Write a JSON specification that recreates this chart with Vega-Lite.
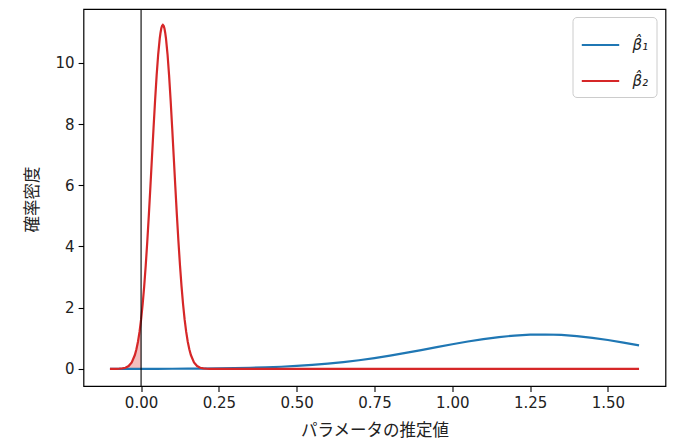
{
  "$schema": "https://vega.github.io/schema/vega-lite/v6.json",
  "width": 582,
  "height": 377,
  "autosize": "none",
  "padding": {"left": 83.5, "top": 9, "right": 13.5, "bottom": 61},
  "background": "white",
  "datasets": {
    "blue": [
      {"x": -0.10, "y": 0.0005, "series": "β̂₁"},
      {"x": -0.05, "y": 0.0009, "series": "β̂₁"},
      {"x": 0.00, "y": 0.0015, "series": "β̂₁"},
      {"x": 0.05, "y": 0.0025, "series": "β̂₁"},
      {"x": 0.10, "y": 0.0041, "series": "β̂₁"},
      {"x": 0.15, "y": 0.0065, "series": "β̂₁"},
      {"x": 0.20, "y": 0.0101, "series": "β̂₁"},
      {"x": 0.25, "y": 0.0154, "series": "β̂₁"},
      {"x": 0.30, "y": 0.0230, "series": "β̂₁"},
      {"x": 0.35, "y": 0.0338, "series": "β̂₁"},
      {"x": 0.40, "y": 0.0485, "series": "β̂₁"},
      {"x": 0.45, "y": 0.0684, "series": "β̂₁"},
      {"x": 0.50, "y": 0.0945, "series": "β̂₁"},
      {"x": 0.55, "y": 0.1280, "series": "β̂₁"},
      {"x": 0.60, "y": 0.1700, "series": "β̂₁"},
      {"x": 0.65, "y": 0.2213, "series": "β̂₁"},
      {"x": 0.70, "y": 0.2825, "series": "β̂₁"},
      {"x": 0.75, "y": 0.3535, "series": "β̂₁"},
      {"x": 0.80, "y": 0.4335, "series": "β̂₁"},
      {"x": 0.85, "y": 0.5214, "series": "β̂₁"},
      {"x": 0.90, "y": 0.6147, "series": "β̂₁"},
      {"x": 0.95, "y": 0.7106, "series": "β̂₁"},
      {"x": 1.00, "y": 0.8051, "series": "β̂₁"},
      {"x": 1.05, "y": 0.8944, "series": "β̂₁"},
      {"x": 1.10, "y": 0.9741, "series": "β̂₁"},
      {"x": 1.15, "y": 1.0399, "series": "β̂₁"},
      {"x": 1.20, "y": 1.0885, "series": "β̂₁"},
      {"x": 1.25, "y": 1.1169, "series": "β̂₁"},
      {"x": 1.30, "y": 1.1236, "series": "β̂₁"},
      {"x": 1.35, "y": 1.1080, "series": "β̂₁"},
      {"x": 1.40, "y": 1.0713, "series": "β̂₁"},
      {"x": 1.45, "y": 1.0154, "series": "β̂₁"},
      {"x": 1.50, "y": 0.9436, "series": "β̂₁"},
      {"x": 1.55, "y": 0.8596, "series": "β̂₁"},
      {"x": 1.60, "y": 0.7677, "series": "β̂₁"}
    ],
    "red": [
      {"x": -0.10, "y": 0.0001, "series": "β̂₂"},
      {"x": -0.09, "y": 0.0004, "series": "β̂₂"},
      {"x": -0.08, "y": 0.0015, "series": "β̂₂"},
      {"x": -0.07, "y": 0.0047, "series": "β̂₂"},
      {"x": -0.06, "y": 0.0138, "series": "β̂₂"},
      {"x": -0.05, "y": 0.0371, "series": "β̂₂"},
      {"x": -0.04, "y": 0.0924, "series": "β̂₂"},
      {"x": -0.03, "y": 0.2127, "series": "β̂₂"},
      {"x": -0.02, "y": 0.4522, "series": "β̂₂"},
      {"x": -0.015, "y": 0.6397, "series": "β̂₂"},
      {"x": -0.01, "y": 0.8872, "series": "β̂₂"},
      {"x": -0.005, "y": 1.2063, "series": "β̂₂"},
      {"x": 0.000, "y": 1.6085, "series": "β̂₂"},
      {"x": 0.005, "y": 2.1030, "series": "β̂₂"},
      {"x": 0.010, "y": 2.6944, "series": "β̂₂"},
      {"x": 0.015, "y": 3.3855, "series": "β̂₂"},
      {"x": 0.020, "y": 4.1690, "series": "β̂₂"},
      {"x": 0.025, "y": 5.0333, "series": "β̂₂"},
      {"x": 0.030, "y": 5.9583, "series": "β̂₂"},
      {"x": 0.035, "y": 6.9137, "series": "β̂₂"},
      {"x": 0.040, "y": 7.8646, "series": "β̂₂"},
      {"x": 0.045, "y": 8.7717, "series": "β̂₂"},
      {"x": 0.050, "y": 9.5911, "series": "β̂₂"},
      {"x": 0.055, "y": 10.280, "series": "β̂₂"},
      {"x": 0.060, "y": 10.803, "series": "β̂₂"},
      {"x": 0.0625, "y": 10.985, "series": "β̂₂"},
      {"x": 0.065, "y": 11.129, "series": "β̂₂"},
      {"x": 0.0675, "y": 11.212, "series": "β̂₂"},
      {"x": 0.070, "y": 11.240, "series": "β̂₂"},
      {"x": 0.0725, "y": 11.212, "series": "β̂₂"},
      {"x": 0.075, "y": 11.129, "series": "β̂₂"},
      {"x": 0.0775, "y": 10.985, "series": "β̂₂"},
      {"x": 0.080, "y": 10.803, "series": "β̂₂"},
      {"x": 0.085, "y": 10.280, "series": "β̂₂"},
      {"x": 0.090, "y": 9.5911, "series": "β̂₂"},
      {"x": 0.095, "y": 8.7717, "series": "β̂₂"},
      {"x": 0.100, "y": 7.8646, "series": "β̂₂"},
      {"x": 0.105, "y": 6.9137, "series": "β̂₂"},
      {"x": 0.110, "y": 5.9583, "series": "β̂₂"},
      {"x": 0.115, "y": 5.0333, "series": "β̂₂"},
      {"x": 0.120, "y": 4.1690, "series": "β̂₂"},
      {"x": 0.125, "y": 3.3855, "series": "β̂₂"},
      {"x": 0.130, "y": 2.6944, "series": "β̂₂"},
      {"x": 0.135, "y": 2.1030, "series": "β̂₂"},
      {"x": 0.140, "y": 1.6085, "series": "β̂₂"},
      {"x": 0.145, "y": 1.2063, "series": "β̂₂"},
      {"x": 0.150, "y": 0.8872, "series": "β̂₂"},
      {"x": 0.155, "y": 0.6397, "series": "β̂₂"},
      {"x": 0.160, "y": 0.4522, "series": "β̂₂"},
      {"x": 0.17, "y": 0.2127, "series": "β̂₂"},
      {"x": 0.18, "y": 0.0924, "series": "β̂₂"},
      {"x": 0.19, "y": 0.0371, "series": "β̂₂"},
      {"x": 0.20, "y": 0.0138, "series": "β̂₂"},
      {"x": 0.21, "y": 0.0047, "series": "β̂₂"},
      {"x": 0.22, "y": 0.0015, "series": "β̂₂"},
      {"x": 0.23, "y": 0.0004, "series": "β̂₂"},
      {"x": 0.24, "y": 0.0001, "series": "β̂₂"},
      {"x": 0.25, "y": 0.0, "series": "β̂₂"},
      {"x": 0.50, "y": 0.0, "series": "β̂₂"},
      {"x": 0.75, "y": 0.0, "series": "β̂₂"},
      {"x": 1.00, "y": 0.0, "series": "β̂₂"},
      {"x": 1.25, "y": 0.0, "series": "β̂₂"},
      {"x": 1.60, "y": 0.0, "series": "β̂₂"}
    ],
    "vline": [{"x": 0}]
  },
  "encoding": {
    "x": {
      "field": "x",
      "type": "quantitative",
      "scale": {"domain": [-0.185, 1.685], "nice": false, "zero": false},
      "axis": {
        "title": "パラメータの推定値",
        "values": [0, 0.25, 0.5, 0.75, 1.0, 1.25, 1.5],
        "format": ".2f",
        "titleX": 291,
        "titleY": 44,
        "titleBaseline": "middle"
      }
    },
    "y": {
      "field": "y",
      "type": "quantitative",
      "scale": {"domain": [-0.56, 11.76], "nice": false, "zero": false},
      "axis": {
        "title": "確率密度",
        "values": [0, 2, 4, 6, 8, 10],
        "titleX": -51,
        "titleY": 190,
        "titleBaseline": "middle"
      }
    }
  },
  "layer": [
    {
      "data": {"name": "red"},
      "transform": [{"filter": "datum.x <= 0"}],
      "mark": {"type": "area", "color": "#d62728", "opacity": 0.3},
      "encoding": {"y2": {"datum": 0}}
    },
    {
      "data": {"name": "blue"},
      "mark": {"type": "line", "strokeWidth": 2.2},
      "encoding": {
        "color": {"field": "series", "type": "nominal"}
      }
    },
    {
      "data": {"name": "red"},
      "mark": {"type": "line", "strokeWidth": 2.2},
      "encoding": {
        "color": {"field": "series", "type": "nominal"}
      }
    },
    {
      "data": {"name": "vline"},
      "mark": {"type": "rule", "color": "black", "strokeWidth": 1.1},
      "encoding": {"y": {"value": 0}, "y2": {"value": 377}}
    }
  ],
  "resolve": {"scale": {"color": "shared"}},
  "config": {
    "view": {"stroke": "black", "strokeWidth": 1.2},
    "range": {"category": ["#1f77b4", "#d62728"]},
    "axis": {
      "grid": false,
      "domain": false,
      "ticks": true,
      "tickColor": "black",
      "tickWidth": 1.1,
      "tickSize": 5.4,
      "labelFont": "DejaVu Sans",
      "labelFontSize": 15,
      "labelColor": "#222",
      "labelPadding": 4,
      "titleFont": "Noto Sans CJK JP",
      "titleFontSize": 16.5,
      "titleFontWeight": "normal",
      "titleColor": "#222"
    },
    "legend": {
      "title": null,
      "orient": "none",
      "legendX": 489,
      "legendY": 8,
      "padding": 8,
      "strokeColor": "#cccccc",
      "cornerRadius": 4,
      "fillColor": "white",
      "symbolType": "stroke",
      "symbolSize": 1400,
      "symbolStrokeWidth": 2.2,
      "labelFont": "DejaVu Sans",
      "labelFontSize": 15,
      "labelFontStyle": "italic",
      "labelColor": "#222",
      "labelOffset": 12,
      "rowPadding": 8
    }
  }
}
